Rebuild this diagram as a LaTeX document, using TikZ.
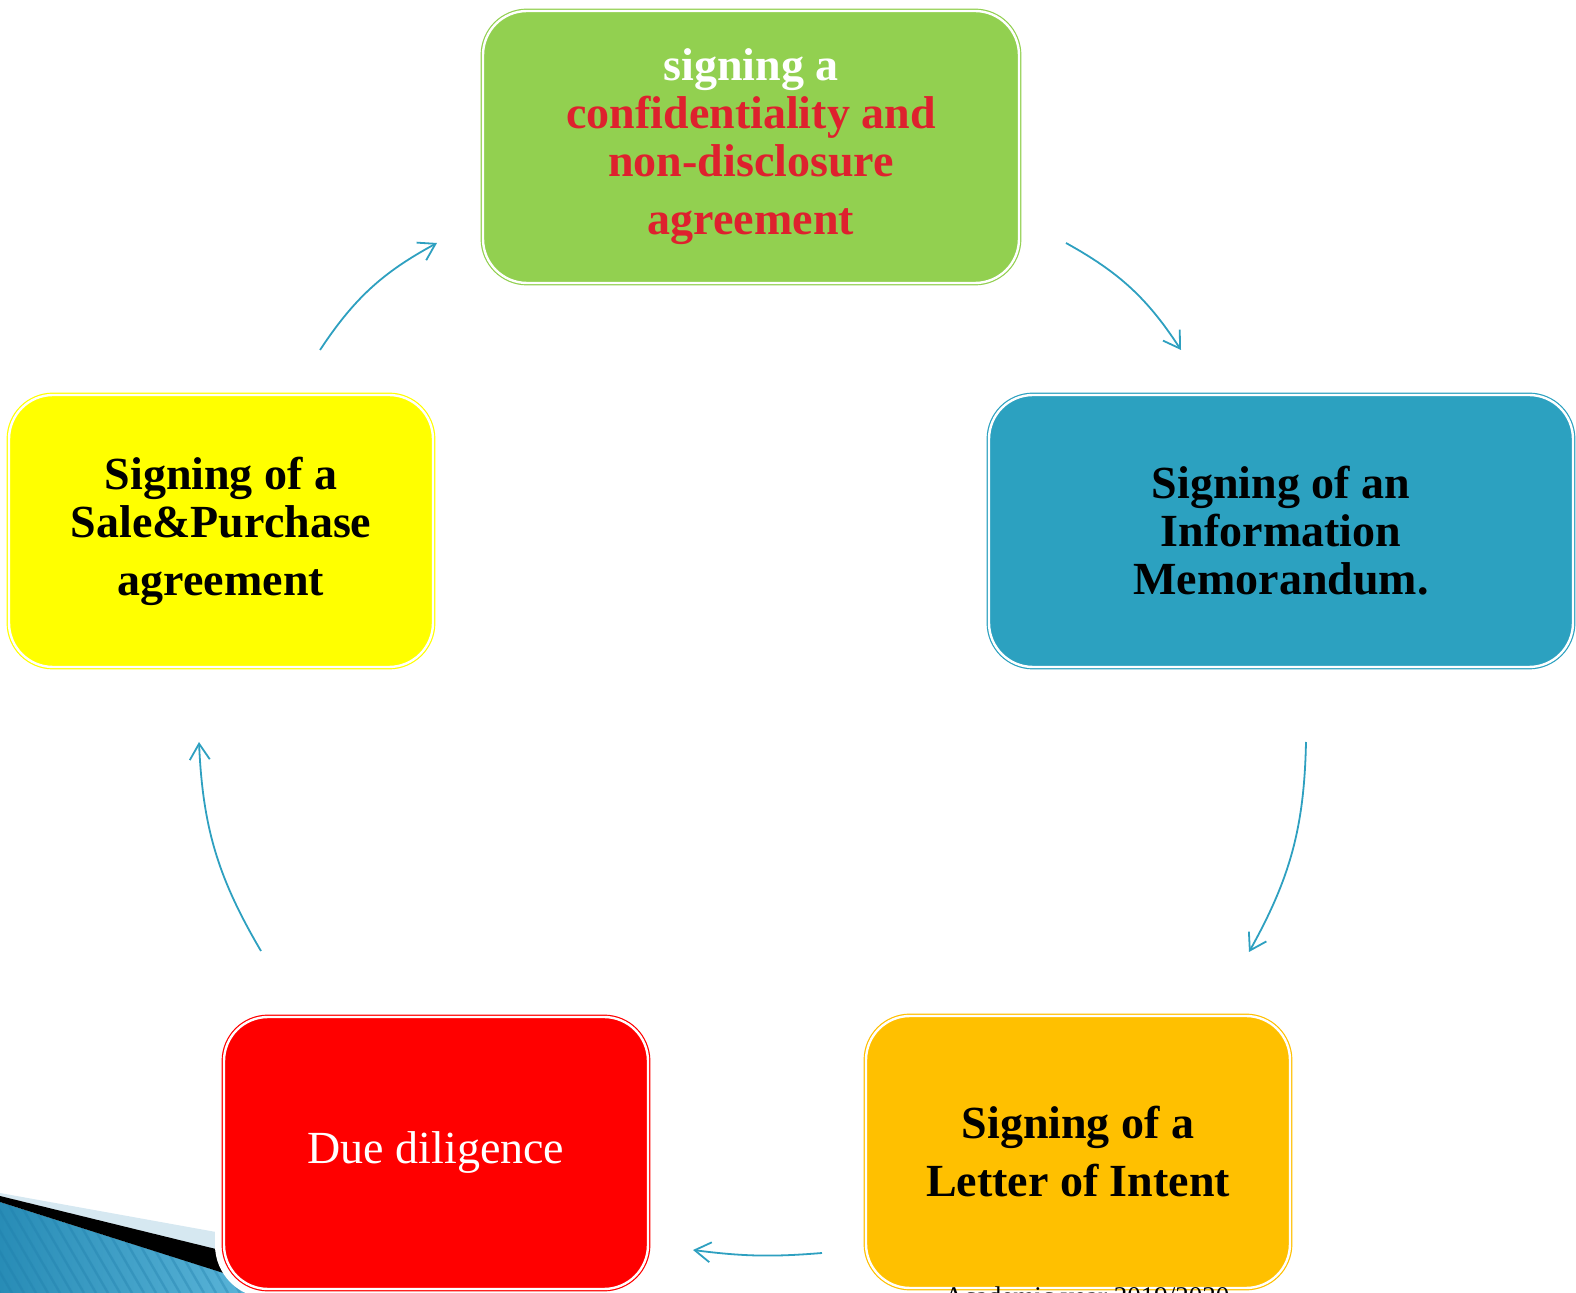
\documentclass[tikz,border=0pt]{standalone}
\usepackage{fontspec}
\setmainfont{Liberation Serif}
\usetikzlibrary{arrows.meta}
\definecolor{ndagreen}{RGB}{146,208,80}
\definecolor{ndared}{RGB}{222,33,46}
\definecolor{memoblue}{RGB}{44,161,192}
\definecolor{loiorange}{RGB}{255,192,0}
\definecolor{ddred}{RGB}{255,0,0}
\definecolor{spayellow}{RGB}{255,255,0}
\definecolor{arrowblue}{RGB}{46,160,192}
\definecolor{cornerdark}{RGB}{40,140,182}
\definecolor{cornerlight}{RGB}{92,182,218}
\definecolor{cornerstripe}{RGB}{30,125,170}
\definecolor{cornerpale}{RGB}{214,232,241}

\begin{document}
\begin{tikzpicture}[x=0.5pt,y=-0.5pt,
        stage/.style={rounded corners=22pt,minimum width=212pt,minimum height=136pt,
            inner sep=0pt,align=center,font=\fontsize{23}{24}\selectfont\bfseries,
            line width=0.6pt,double=white,double distance=1.2pt,
            preaction={draw=white,line width=9pt}},
        cyclearrow/.style={arrowblue,line width=0.9pt,bend left=14,
            -{Straight Barb[length=8pt,width=10pt]}}
    ]
        \useasboundingbox (0,0) rectangle (1576,1293);
        \clip (0,0) rectangle (1576,1293);

        % corner decoration
        \begin{scope}
            \clip (0,1202) -- (240,1278) -- (252,1293) -- (0,1293) -- cycle;
            \shade[left color=cornerdark,right color=cornerlight] (0,1190) rectangle (260,1293);
            \foreach \s in {-60,-48,...,300}
                \draw[cornerstripe,opacity=.35,line width=1.2pt] (\s,1190) -- (\s+60,1293);
        \end{scope}
        \fill[cornerpale] (0,1193) -- (216,1232) -- (216,1250) -- (0,1196) -- cycle;
        \fill[black] (0,1196) -- (224,1251) -- (236,1277) -- (0,1202) -- cycle;

        \node[stage,fill=ndagreen,draw=ndagreen,minimum width=268pt,text=ndared] (nda) at (751,147)
            {\textcolor{white}{signing a}\\confidentiality and\\non-disclosure\\[5pt]agreement};
        \node[stage,fill=memoblue,draw=memoblue,minimum width=292pt] (memo) at (1281,531)
            {Signing of an\\Information\\Memorandum.};
        \node[stage,fill=loiorange,draw=loiorange,font=\fontsize{23}{29}\selectfont\bfseries] (loi) at (1078,1152)
            {Signing of a\\Letter of Intent};
        \node[stage,fill=ddred,draw=ddred,text=white,font=\fontsize{23}{24}\selectfont] (dd) at (436,1153)
            {Due diligence};
        \node[stage,fill=spayellow,draw=spayellow] (spa) at (221,531)
            {Signing of a\\Sale\&Purchase\\[5pt]agreement};

        \node[anchor=base west,inner sep=0pt,font=\fontsize{13.5}{15}\selectfont] (year) at (944,1305)
            {Academic year 2019/2020};

        \coordinate (a1s) at (1066,243);
        \coordinate (a1e) at (1181,350);
        \coordinate (a2s) at (1306,742);
        \coordinate (a2e) at (1249,952);
        \coordinate (a3s) at (822,1253);
        \coordinate (a3e) at (693,1250);
        \coordinate (a4s) at (261,951);
        \coordinate (a4e) at (199,742);
        \coordinate (a5s) at (320,350);
        \coordinate (a5e) at (437,243);

        \draw[cyclearrow] (a1s) to (a1e);
        \draw[cyclearrow] (a2s) to (a2e);
        \draw[cyclearrow,bend left=6] (a3s) to (a3e);
        \draw[cyclearrow] (a4s) to (a4e);
        \draw[cyclearrow] (a5s) to (a5e);
    \end{tikzpicture}
\end{document}
